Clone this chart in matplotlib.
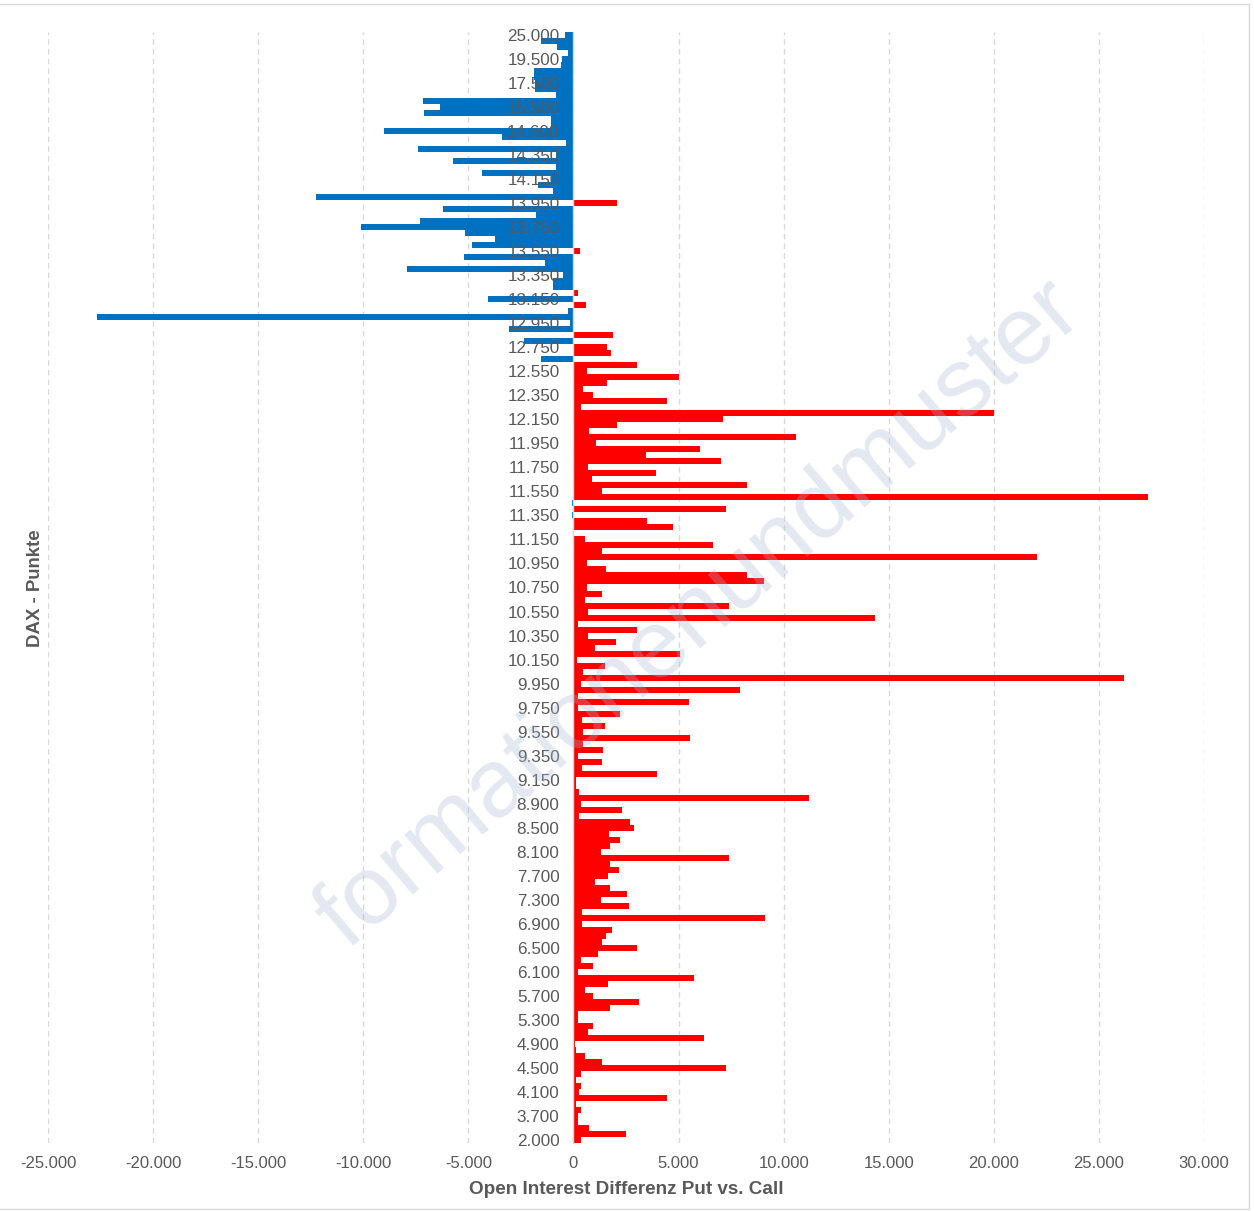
import numpy as np
import matplotlib.pyplot as plt
from matplotlib.ticker import FuncFormatter
from matplotlib.patches import Rectangle

plt.rcParams['font.family'] = ['Liberation Sans', 'DejaVu Sans']

# strike levels, bottom to top
strikes = [2000, 3000, 3400, 3600,
           3700, 3800, 3900, 4000, 4100, 4200, 4300, 4400, 4500, 4600, 4700, 4800,
           4900, 5000, 5100, 5200, 5300, 5400, 5500, 5600, 5700, 5800, 5900, 6000,
           6100, 6200, 6300, 6400, 6500, 6600, 6700, 6800, 6900, 7000, 7100, 7200,
           7300, 7400, 7500, 7600, 7700, 7800, 7900, 8000, 8100, 8200, 8300, 8400,
           8500, 8600, 8700, 8800, 8900,
           9000, 9050, 9100,
           9150, 9200, 9250, 9300, 9350, 9400, 9450, 9500, 9550, 9600, 9650, 9700,
           9750, 9800, 9850, 9900, 9950, 10000, 10050, 10100, 10150, 10200, 10250, 10300,
           10350, 10400, 10450, 10500, 10550, 10600, 10650, 10700, 10750, 10800, 10850, 10900,
           10950, 11000, 11050, 11100, 11150, 11200, 11250, 11300, 11350, 11400, 11450, 11500,
           11550, 11600, 11650, 11700, 11750, 11800, 11850, 11900, 11950, 12000, 12050, 12100,
           12150, 12200, 12250, 12300, 12350, 12400, 12450, 12500, 12550, 12600, 12650, 12700,
           12750, 12800, 12850, 12900, 12950, 13000, 13050, 13100, 13150, 13200, 13250, 13300,
           13350, 13400, 13450, 13500, 13550, 13600, 13650, 13700, 13750, 13800, 13850, 13900,
           13950, 14000, 14050, 14100, 14150, 14200, 14250, 14300, 14350,
           14400, 14450, 14500, 14600, 14800, 15000, 15200, 15500, 16000, 16500, 17000, 17500,
           18000, 18500, 19000, 19500, 20000, 22000, 24000, 25000]

# open interest put minus call, same order as strikes
oi_diff = [341, 2498, 737, 198, 198, 341, 135, 4465, 277, 341, 135, 341,
           7240, 1356, 547, 135, 56, 6209, 674, 944, 198, 198, 1752, 3101,
           944, 547, 1626, 5750, 198, 944, 341, 1150, 3037, 1356, 1562, 1816,
           404, 9110, 404, 2625, 1293, 2562, 1752, 1023, 1626, 2165, 1752, 7382,
           1293, 1752, 2229, 1689, 2895, 2688, 277, 2292, 341, 11203, 262, 135,
           100, 3973, 404, 1340, 198, 1420, 452, 5543, 452, 1482, 404, 2229,
           198, 5480, 198, 7906, 341, 26188, 452, 1482, 150, 5083, 1007, 2022,
           674, 3037, 214, 14342, 674, 7382, 547, 1356, 626, 9060, 8255, 1562,
           626, 22049, 1356, 6622, 547, 0, 4734, 3513, -55, 7240, -60, 27330,
           1356, 8255, 880, 3925, 674, 7034, 3450, 6019, 1086, 10584, 753, 2086,
           7097, 20003, 341, 4465, 944, 468, 1610, 5020, 626, 3037, -1562, 1768,
           1610, -2355, 1880, -3053, -170, -22690, -246, 595, -4068, 200, -991, -991,
           -483, -7922, -1350, -5210, 330, -4829, -3735, -5162, -10111, -7304, -1784, -6209,
           2070, -12252, -991, -1673, -1023, -4354, -833, -5733, -833, -7399, -357, -3410,
           -9018, -1070, -1060, -7100, -6330, -7150, -833, -1835, -1835, -1864, -1864, -600,
           -550, -278, -760, -1550, -404]


def de_fmt(v, pos=None):
    return f"{int(v):,}".replace(",", ".")


W, H = 1254, 1211
fig = plt.figure(figsize=(W / 100, H / 100), dpi=100)
ax = fig.add_axes([48 / W, 1 - 1143 / H, 1156 / W, 1111 / H])

y = np.arange(len(strikes))
colors = ['#0070C0' if v < 0 else '#FF0000' for v in oi_diff]
ax.barh(y, oi_diff, height=1.0, color=colors, linewidth=0, zorder=2)

ax.set_xlim(-25000, 30000)
ax.set_ylim(-0.5, len(strikes) - 0.5)
ax.set_xticks(np.arange(-25000, 30001, 5000))
ax.xaxis.set_major_formatter(FuncFormatter(de_fmt))
ax.set_yticks(y[::4])
ax.set_yticklabels([de_fmt(s) for s in strikes[::4]])

ax.xaxis.grid(True, color='#d9d9d9', linestyle=(0, (4, 3)), linewidth=1)
ax.xaxis.set_zorder(0.5)
ax.yaxis.set_zorder(5)

for s in ['top', 'right', 'bottom']:
    ax.spines[s].set_visible(False)
ax.spines['left'].set_position(('data', 0))
ax.spines['left'].set_color('#d9d9d9')
ax.spines['left'].set_linewidth(1)

ax.tick_params(axis='both', length=0, labelsize=12, labelcolor='#595959')
ax.tick_params(axis='y', pad=10, labelsize=12.3)
ax.tick_params(axis='x', pad=9)

fig.text(626 / W, 1 - 1190 / H, 'Open Interest Differenz Put vs. Call',
         ha='center', va='center', fontsize=13.6, fontweight='bold', color='#595959')
fig.text(35 / W, 1 - 588 / H, 'DAX - Punkte', rotation=90,
         ha='center', va='center', fontsize=13.4, fontweight='bold', color='#595959')

# watermark
fig.text(700 / W, 1 - 615 / H, 'formationenundmuster', rotation=40.6,
         ha='center', va='center', fontsize=70, color='#a5b8d0', alpha=0.3, zorder=10)

fig.patches.append(Rectangle((-0.01, 2 / H), 1 + 0.01 - 5 / W, 1 - 6 / H,
                             transform=fig.transFigure, fill=False,
                             edgecolor='#d9d9d9', linewidth=1))

fig.savefig('out.png', dpi=100)
